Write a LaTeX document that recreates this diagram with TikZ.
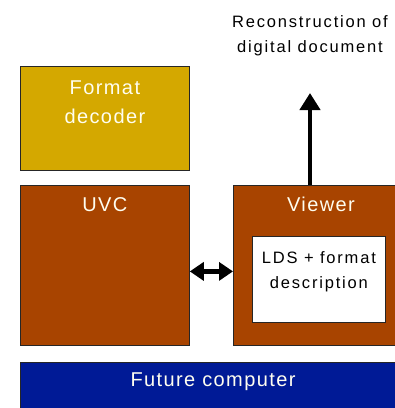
\documentclass[tikz,border=0pt]{standalone}
\usepackage{fontspec}
\setmainfont{Liberation Sans}
\usetikzlibrary{positioning,arrows.meta}
\definecolor{decodergold}{RGB}{212,168,0}
\definecolor{uvcbrown}{RGB}{168,68,0}
\definecolor{computerblue}{RGB}{0,26,150}

\begin{document}
\begin{tikzpicture}[x=1pt,y=-1pt,
  box/.style={draw=black!85,line width=0.8pt,anchor=north west,inner sep=0pt},
  boxtxt/.style={text=white!94!yellow,align=center,inner sep=0pt,
    font=\fontsize{20}{29}\selectfont\addfontfeature{LetterSpace=7}},
  smalltxt/.style={text=black,align=center,inner sep=0pt,
    font=\fontsize{16.5}{25}\selectfont\addfontfeature{LetterSpace=11}},
  fatarrow/.style={line width=4.5pt,-{Triangle[width=20pt,length=17pt]}},
  botharrow/.style={line width=5.5pt,{Triangle[width=18pt,length=14pt]}-{Triangle[width=18pt,length=14pt]}}]
  \clip (0,0) rectangle (395,408);

  % boxes
  \node[box,fill=decodergold,minimum width=169pt,minimum height=104pt] (decoder) at (20,66) {};
  \node[box,fill=uvcbrown,minimum width=169pt,minimum height=160pt] (uvc) at (20,185) {};
  \node[box,fill=uvcbrown,minimum width=180pt,minimum height=160pt] (viewer) at (233,185) {};
  \node[box,fill=white,minimum width=133pt,minimum height=86pt] (lds) at (252,236) {};
  \node[box,fill=computerblue,minimum width=390pt,minimum height=60pt] (computer) at (20,362) {};

  % texts
  \node[boxtxt,below=15pt of decoder.north] (decodertxt) {Format\\decoder};
  \node[boxtxt,below=12pt of uvc.north] (uvctxt) {UVC};
  \node[boxtxt,anchor=north] (viewertxt) at (321,197) {Viewer};
  \node[smalltxt,below=15pt of lds.north] (ldstxt) {LDS + format\\description};
  \node[boxtxt,anchor=north] (computertxt) at (213,373) {Future computer};
  \node[smalltxt,anchor=north] (recon) at (310,15) {Reconstruction of\\digital document};

  % arrows
  \coordinate (recontip) at (310,93);
  \draw[fatarrow] (viewer.north -| recontip) -- (recontip);
  \draw[botharrow] ([yshift=-6pt]uvc.east) -- ([yshift=-6pt]viewer.west);
\end{tikzpicture}
\end{document}
